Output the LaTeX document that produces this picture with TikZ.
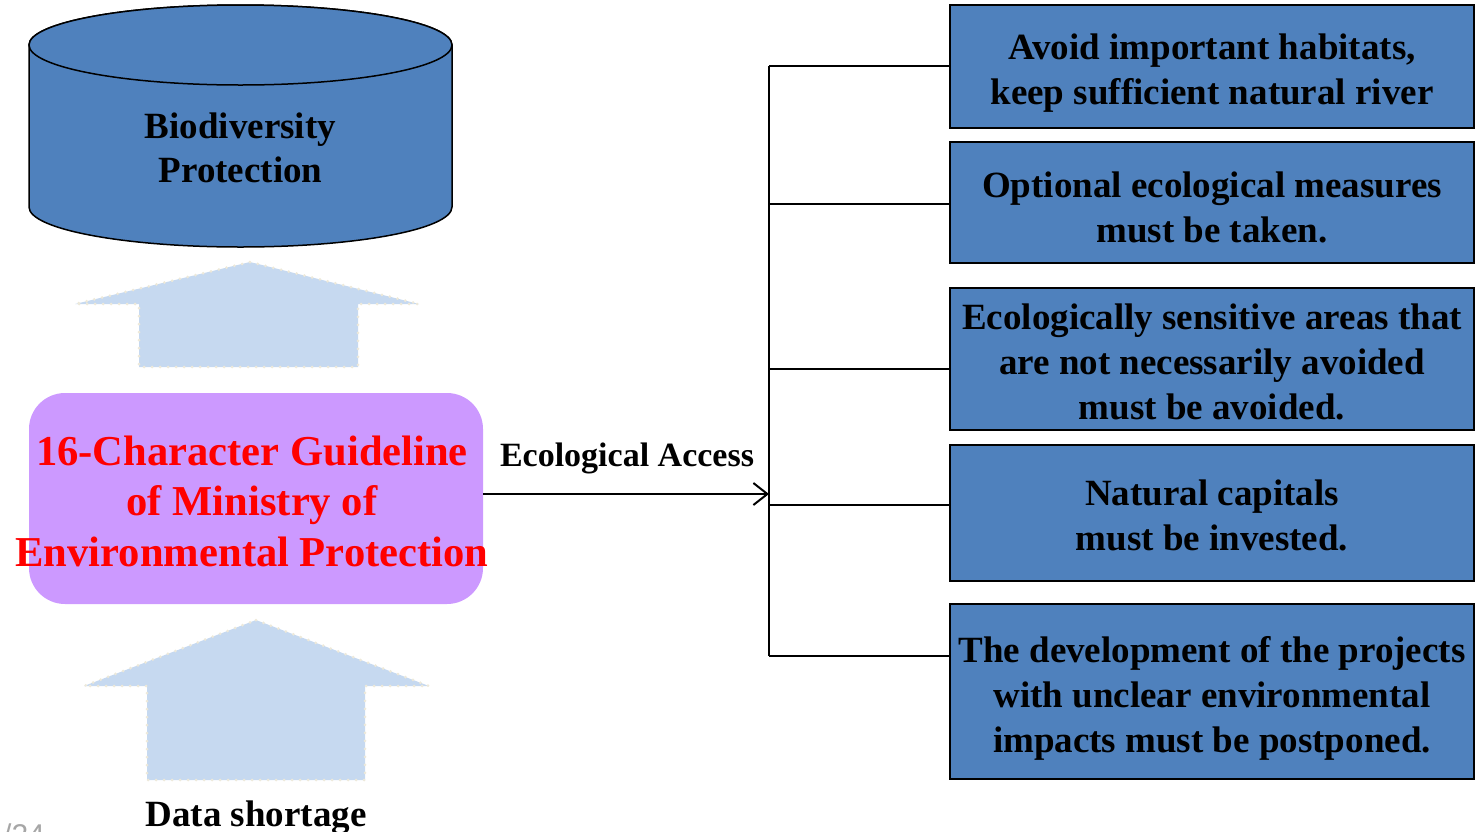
\documentclass[tikz,border=0pt]{standalone}
\usepackage{fontspec}
\setmainfont{Liberation Serif}
\newfontfamily\gsans{Liberation Sans}
\usetikzlibrary{arrows.meta}
\definecolor{boxblue}{HTML}{4F81BD}
\definecolor{lightblue}{HTML}{C6D9F0}
\definecolor{dotbeige}{HTML}{EDE9DA}
\definecolor{lilac}{HTML}{CC99FF}
\definecolor{pagegray}{HTML}{A6A6A6}
\newcommand{\dropby}[1]{\rule{0pt}{\dimexpr 27pt+#1pt\relax}}
\tikzset{
  blockarrow/.style={fill=lightblue, draw=dotbeige, line width=3pt, line cap=round, dash pattern=on 0pt off 8pt},
  cylshape/.style={fill=boxblue, draw=black, line width=1.5pt},
  bluebox/.style={rectangle, fill=boxblue, draw=black, line width=2.2pt, minimum width=524pt, inner sep=0pt, align=center, font=\bfseries\fontsize{37}{45}\selectfont},
  conn/.style={draw=black, line width=1.6pt},
  bigtext/.style={align=center, font=\bfseries\fontsize{37}{44}\selectfont},
}
\begin{document}
\begin{tikzpicture}[x=1pt,y=-1pt]
\useasboundingbox (0,0) rectangle (1476,831);
% cylinder
\path[cylshape] (29,45) -- (29,207) arc[start angle=180,end angle=0,x radius=211.5,y radius=40] -- (452,45) arc[start angle=0,end angle=-180,x radius=211.5,y radius=40] -- cycle;
\path[cylshape] (240.5,45) ellipse [x radius=211.5, y radius=40];
\node[bigtext] (bio) at (240.5,148) {Biodiversity\\Protection};
% block arrows
\path[blockarrow] (250,262) -- (419,304) -- (358,304) -- (358,367) -- (139,367) -- (139,304) -- (75,304) -- cycle;
\path[blockarrow] (256,620) -- (429,686) -- (365,686) -- (365,780) -- (147,780) -- (147,686) -- (84,686) -- cycle;
% guideline box
\node[rectangle, rounded corners=36pt, fill=lilac, minimum width=454pt, minimum height=211pt, inner sep=0pt] (g) at (256,498.5) {};
\node[align=center, text=red, font=\bfseries\fontsize{42.6}{50.5}\selectfont] (gt) at (252,501) {16-Character Guideline\\of Ministry of\\Environmental Protection};
% right boxes
\node[bluebox, minimum height=123pt] (b1) at (1212,66.5) {\dropby{12}Avoid important habitats,\\keep sufficient natural river};
\node[bluebox, minimum height=121pt] (b2) at (1212,202.5) {\dropby{8}Optional ecological measures\\must be taken.};
\node[bluebox, minimum height=142pt] (b3) at (1212,359) {\dropby{4}Ecologically sensitive areas that\\are not necessarily avoided\\must be avoided.};
\node[bluebox, minimum height=136pt] (b4) at (1212,513) {\dropby{4}Natural capitals\\must be invested.};
\node[bluebox, minimum height=175pt] (b5) at (1212,691.5) {\dropby{12}The development of the projects\\with unclear environmental\\impacts must be postponed.};
% trunk and branches
\coordinate (tt) at (769,66);
\coordinate (p2) at ([yshift=-1.5pt]b2.west);
\coordinate (p3) at ([yshift=-10pt]b3.west);
\coordinate (p4) at ([yshift=8pt]b4.west);
\coordinate (p5) at ([yshift=35.5pt]b5.west);
\coordinate (tb) at (tt |- p5);
\draw[conn] (tt) -- (tb);
\draw[conn] (tt) -- (tt -| b1.west);
\draw[conn] (tt |- p2) -- (p2);
\draw[conn] (tt |- p3) -- (p3);
\draw[conn] (tt |- p4) -- (p4);
\draw[conn] (tb) -- (p5);
% main arrow
\coordinate (gs) at ([yshift=4.5pt]g.east);
\draw[conn, line width=2pt, -{Straight Barb[length=14pt,width=22pt,line width=2pt]}] (gs) -- (tt |- gs);
\node[font=\bfseries\fontsize{34}{40}\selectfont] (eco) at (627,458) {Ecological Access};
% bottom texts
\node[font=\bfseries\fontsize{37}{44}\selectfont, anchor=base] (data) at (256,826) {Data shortage};
\node[font=\gsans\fontsize{30}{36}\selectfont, text=pagegray, anchor=base west, inner sep=0pt] (pg) at (3,845) {/24};
\end{tikzpicture}
\end{document}
